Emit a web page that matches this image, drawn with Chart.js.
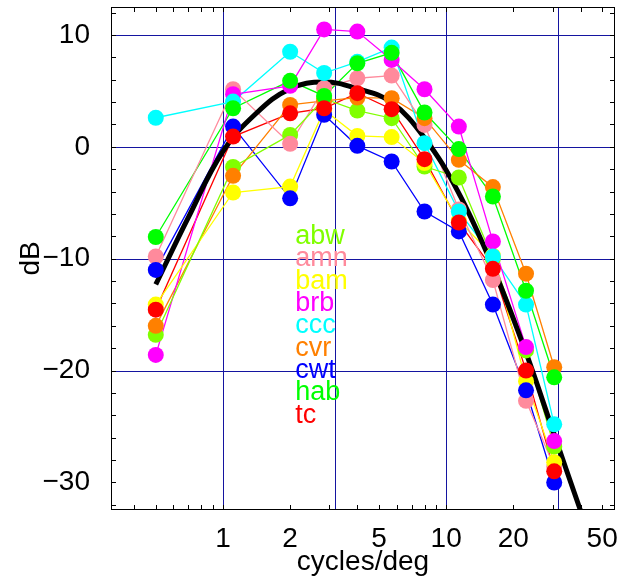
<!DOCTYPE html>
<html>
<head>
<meta charset="utf-8">
<script src="https://cdn.jsdelivr.net/npm/chart.js@4.4.1/dist/chart.umd.min.js"></script>
<style>
    body { margin: 0; background: #fff; }
    #wrap { width: 619px; height: 580px; }
</style>
</head>
<body>
<div id="wrap"><canvas id="grafico" width="619" height="580"></canvas></div>
<script>
// frequencias (cycles/deg) de cada medida
const freqs = [0.5, 1.11, 2, 2.84, 4, 5.7, 8, 11.4, 16.2, 22.8, 30.5];

const names = ['abw', 'amn', 'bam', 'brb', 'ccc', 'cvr', 'cwt', 'hab', 'tc'];
const colors = ['#80ff00', '#ff8a9c', '#ffff00', '#ff00ff', '#00ffff', '#ff8000', '#0000ff', '#00ff00', '#ff0000'];

const abw = [-16.8, -1.8, 1.07, 4.3, 3.24, 2.56, -1.76, -2.74, -10.0, -18.2, -26.8];
const amn = [-9.8, 5.15, 0.27, 5.24, 6.13, 6.37, 1.96, -5.6, -11.9, -22.7, -28.6];
const bam = [-14.1, -4.08, -3.55, 3.3, 0.98, 0.87, -1.45, -6.6, -9.73, -20.95, -28.2];
const brb = [-18.6, 4.7, 5.45, 10.5, 10.3, 7.77, 5.15, 1.81, -8.45, -17.9, -26.3];
const ccc = [2.6, 4.05, 8.5, 6.6, 7.6, 8.87, 0.33, -5.78, -9.8, -14.1, -24.8];
const cvr = [-16.0, -2.59, 3.75, 4.1, 4.4, 4.35, 2.56, -1.16, -3.6, -11.34, -19.7];
const cwt = [-11.0, 1.81, -4.6, 2.86, 0.09, -1.31, -5.78, -7.56, -14.1, -21.76, -30.0];
const hab = [-8.06, 3.45, 5.9, 4.55, 7.47, 8.4, 3.07, -0.2, -4.44, -12.86, -20.6];
const tc = [-14.55, 0.92, 3.0, 3.45, 4.8, 3.37, -1.1, -6.76, -10.9, -20.0, -29.0];
const series = [abw, amn, bam, brb, ccc, cvr, cwt, hab, tc];

// curva media (linha preta grossa)
const fitX = [0.5, 0.7, 1, 1.41, 2, 2.83, 4, 5.66, 8, 11.3, 16, 22.6, 30, 40, 45];
const fitY = [-12.3, -6.3, -0.4, 3.0, 5.2, 5.8, 5.2, 4.0, 0.8, -4.0, -10.5, -18.2, -25.3, -32.5, -35.3];

const xTickLabels = [1, 2, 5, 10, 20, 50];
const yTickLabels = [10, 0, -10, -20, -30];
const xGridValues = [1, 3.1623, 10, 31.623];
const yGridValues = [10, 0, -10, -20];

// legenda dentro do grafico
const legendX = 2.11;
const legendY = [-8, -10, -12, -14, -16, -18, -20, -22, -24];

const fonte = '"Liberation Sans", Arial, Helvetica, sans-serif';

function pts(xs, ys) {
    return xs.map((x, i) => ({ x: x, y: ys[i] }));
}

const datasets = [];
series.forEach((s, i) => {
    datasets.push({
        label: names[i] + '-linha',
        data: pts(freqs, s),
        borderColor: colors[i],
        borderWidth: 1.3,
        pointRadius: 0,
        tension: 0,
        order: 40
    });
});
datasets.push({
    label: 'media',
    data: pts(fitX, fitY),
    borderColor: '#000',
    borderWidth: 5,
    pointRadius: 0,
    tension: 0.4,
    order: 30
});
series.forEach((s, i) => {
    datasets.push({
        label: names[i],
        data: pts(freqs, s),
        showLine: false,
        backgroundColor: colors[i],
        borderWidth: 0,
        pointRadius: 8,
        pointBorderWidth: 0,
        order: 20 - i
    });
});

const gradeEMarcas = {
    id: 'gradeEMarcas',
    beforeDatasetsDraw(chart) {
        const { ctx, chartArea: a, scales: { x, y } } = chart;
        ctx.save();
        ctx.strokeStyle = '#1414a0';
        ctx.lineWidth = 1;
        xGridValues.forEach(v => {
            const px = Math.round(x.getPixelForValue(v)) + 0.5;
            ctx.beginPath(); ctx.moveTo(px, a.top); ctx.lineTo(px, a.bottom); ctx.stroke();
        });
        yGridValues.forEach(v => {
            const py = Math.round(y.getPixelForValue(v)) + 0.5;
            ctx.beginPath(); ctx.moveTo(a.left, py); ctx.lineTo(a.right, py); ctx.stroke();
        });
        ctx.restore();
    },
    afterDatasetsDraw(chart) {
        const { ctx, chartArea: a, scales: { x, y } } = chart;
        ctx.save();
        ctx.strokeStyle = '#000';
        ctx.lineWidth = 1;
        ctx.strokeRect(a.left + 0.5, a.top + 0.5, a.right - a.left - 1, a.bottom - a.top - 1);
        // marcas pequenas para dentro
        for (let d = 0.1; d <= 100; d *= 10) {
            for (let m = 1; m < 10; m++) {
                const v = d * m;
                if (v < x.min || v > x.max) continue;
                const px = Math.round(x.getPixelForValue(v)) + 0.5;
                ctx.beginPath();
                ctx.moveTo(px, a.bottom); ctx.lineTo(px, a.bottom - 5);
                ctx.moveTo(px, a.top); ctx.lineTo(px, a.top + 5);
                ctx.stroke();
            }
        }
        for (let v = -32; v <= 12; v += 2) {
            const py = Math.round(y.getPixelForValue(v)) + 0.5;
            ctx.beginPath();
            ctx.moveTo(a.left, py); ctx.lineTo(a.left + 5, py);
            ctx.moveTo(a.right, py); ctx.lineTo(a.right - 5, py);
            ctx.stroke();
        }
        // legenda
        ctx.font = '27px ' + fonte;
        ctx.textBaseline = 'middle';
        ctx.textAlign = 'left';
        names.forEach((n, i) => {
            ctx.fillStyle = colors[i];
            ctx.fillText(n, x.getPixelForValue(legendX), y.getPixelForValue(legendY[i]));
        });
        ctx.restore();
    }
};

const ctx = document.getElementById('grafico').getContext('2d');
const chart = new Chart(ctx, {
    type: 'line',
    data: { datasets: datasets },
    options: {
        responsive: false,
        animation: false,
        devicePixelRatio: 1,
        layout: { autoPadding: false, padding: { top: 7, right: 4, left: 0, bottom: 0 } },
        plugins: { legend: { display: false }, tooltip: { enabled: false } },
        scales: {
            x: {
                type: 'logarithmic',
                position: 'bottom',
                bounds: 'data',
                min: 0.315,
                max: 57.1,
                afterBuildTicks: s => { s.ticks = xTickLabels.map(v => ({ value: v })); },
                afterFit: s => { s.height = 70; s.paddingLeft = 0; s.paddingRight = 0; },
                grid: { display: false },
                border: { display: false },
                ticks: {
                    color: '#000',
                    font: { family: fonte, size: 28 },
                    padding: 4,
                    maxRotation: 0,
                    autoSkip: false,
                    callback: v => String(v)
                },
                title: {
                    display: true,
                    text: 'cycles/deg',
                    color: '#000',
                    font: { family: fonte, size: 28 },
                    padding: { top: 0, bottom: 1 }
                }
            },
            y: {
                type: 'linear',
                min: -32.46,
                max: 12.5,
                afterBuildTicks: s => { s.ticks = yTickLabels.map(v => ({ value: v })); },
                afterFit: s => { s.width = 111; s.paddingTop = 0; s.paddingBottom = 0; },
                grid: { display: false },
                border: { display: false },
                ticks: {
                    color: '#000',
                    font: { family: fonte, size: 28 },
                    padding: 13,
                    callback: v => v < 0 ? '\u2212' + Math.abs(v) : String(v)
                },
                title: {
                    display: true,
                    text: 'dB',
                    color: '#000',
                    font: { family: fonte, size: 28 },
                    padding: { top: 14, bottom: 0 }
                }
            }
        }
    },
    plugins: [gradeEMarcas]
});
</script>
</body>
</html>
